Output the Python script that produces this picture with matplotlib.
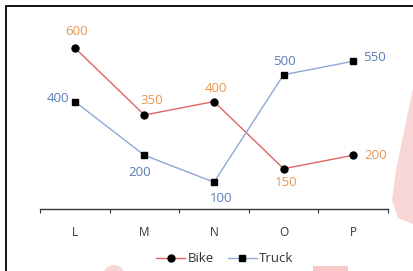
import matplotlib.pyplot as plt
from matplotlib.patches import Rectangle, Polygon, Circle

categories = ["L", "M", "N", "O", "P"]
bike = [600, 350, 400, 150, 200]
truck = [400, 200, 100, 500, 550]

# label offsets in pixels (dx, dy)
bike_off = [(2, 16), (7, 15), (2, 13), (3, -14), (22, 0)]
truck_off = [(-17, 3), (-5, -17), (7, -16), (1, 13), (21, 4)]

plt.rcParams['font.family'] = ['Open Sans', 'DejaVu Sans']

W, H = 413, 271
fig = plt.figure(figsize=(W / 100, H / 100), dpi=100)

# pink watermark bits
fig.patches.append(Polygon([(413, H - 88), (396, H - 170), (392, H - 200), (398, H - 218), (413, H - 224)],
                           closed=True, transform=None, facecolor='#f8d6d6', edgecolor='none', zorder=0))
fig.patches.append(Rectangle((313, 0), 35, 5, transform=None, facecolor='#f7c8c8', edgecolor='none', zorder=0))
fig.patches.append(Circle((114, -5), 11, transform=None, facecolor='#f9d6d6', edgecolor='none', zorder=0))

# outer frame, cut off at right and bottom
fig.patches.append(Rectangle((6, -10), 420, H + 4, transform=None, fill=False,
                             edgecolor='black', linewidth=1.3, zorder=1))

ax = fig.add_axes([40 / W, (H - 209) / H, 348 / W, 188 / H])
ax.patch.set_alpha(0)
x = range(len(categories))

ax.plot(x, bike, color='#e06464', linewidth=1, marker='o', markersize=5,
        markerfacecolor='black', markeredgecolor='black', label='Bike')
ax.plot(x, truck, color='#8fa6d6', linewidth=1, marker='s', markersize=5,
        markerfacecolor='black', markeredgecolor='black', label='Truck')

for i, v in enumerate(bike):
    ax.annotate(str(v), (i, v), xytext=bike_off[i], textcoords='offset pixels',
                ha='center', va='center', color='#e8964f', fontsize=9.5)
for i, v in enumerate(truck):
    ax.annotate(str(v), (i, v), xytext=truck_off[i], textcoords='offset pixels',
                ha='center', va='center', color='#5a7db8', fontsize=9.5)

ax.set_xlim(-0.5, len(categories) - 0.5)
ax.set_ylim(0, 700)
ax.set_xticks(list(x))
ax.set_xticklabels(categories, fontsize=8.5, color='#333333')
ax.set_xticks([i - 0.5 for i in range(len(categories) + 1)], minor=True)
ax.tick_params(axis='x', which='major', length=0, pad=12)
ax.tick_params(axis='x', which='minor', length=3, width=0.8, direction='out', color='#333333')
ax.set_yticks([])
for s in ['top', 'right', 'left']:
    ax.spines[s].set_visible(False)
ax.spines['bottom'].set_color('#333333')
ax.spines['bottom'].set_linewidth(1)

fig.legend(loc='center', bbox_to_anchor=(225 / W, (H - 259) / H), ncol=2, frameon=False,
           fontsize=9.5, handlelength=2.2, handletextpad=0.2, columnspacing=1.0,
           labelcolor='#333333')

fig.savefig('out.png', dpi=100)
